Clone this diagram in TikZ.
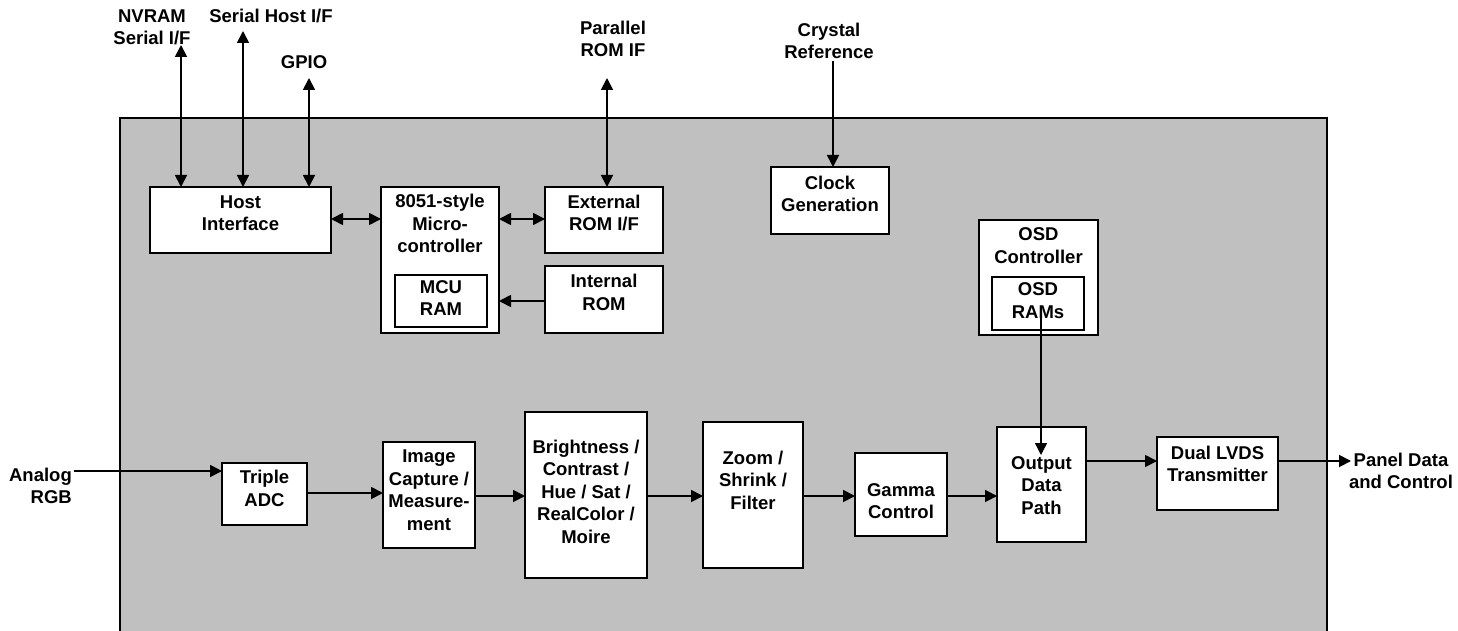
\documentclass[tikz,border=0pt]{standalone}
\usepackage{fontspec}
\setmainfont{Liberation Sans}
\usetikzlibrary{arrows.meta}
\definecolor{panelgray}{HTML}{C0C0C0}
\begin{document}
\begin{tikzpicture}[x=1pt,y=-1pt,
  box/.style={draw, line width=1.8pt, fill=white, inner sep=0pt, outer sep=0pt},
  txt/.style={font=\fontsize{18.5}{22.5}\selectfont\bfseries, align=center, inner sep=0pt},
  tip/.style={Triangle[length=12pt,width=12pt]},
  arr/.style={line width=1.8pt, -{Triangle[length=12pt,width=12pt]}},
  darr/.style={line width=1.8pt, {Triangle[length=12pt,width=12pt]}-{Triangle[length=12pt,width=12pt]}}]
\useasboundingbox (0,0) rectangle (1458,631);
\begin{scope}
  \clip (0,0) rectangle (1458,631);
  \path[draw, line width=1.8pt, fill=panelgray] (120,118) rectangle (1327,660);
\end{scope}

% boxes
\node[box, minimum width=181pt, minimum height=66pt] (host) at (240.5,220) {};
\node[box, minimum width=118pt, minimum height=146pt] (mcu) at (440,260) {};
\node[box, minimum width=92pt, minimum height=52pt] (mcuram) at (441,301) {};
\node[box, minimum width=118pt, minimum height=66pt] (ext) at (604,220) {};
\node[box, minimum width=118pt, minimum height=67pt] (introm) at (604,299.5) {};
\node[box, minimum width=118pt, minimum height=67pt] (clock) at (830,200.5) {};
\node[box, minimum width=119pt, minimum height=115pt] (osd) at (1038.5,277.5) {};
\node[box, minimum width=92pt, minimum height=53pt] (osdram) at (1038,303.5) {};
\node[box, minimum width=85pt, minimum height=62pt] (adc) at (264.5,494) {};
\node[box, minimum width=92pt, minimum height=106pt] (img) at (429,495) {};
\node[box, minimum width=122pt, minimum height=166pt] (bri) at (586,495) {};
\node[box, minimum width=100pt, minimum height=146pt] (zoom) at (753,495) {};
\node[box, minimum width=92pt, minimum height=83pt] (gam) at (901,494.5) {};
\node[box, minimum width=89pt, minimum height=115pt] (out) at (1041.5,484.5) {};
\node[box, minimum width=121pt, minimum height=73pt] (lvds) at (1217.5,473.5) {};

% box texts
\node[txt] (thost) at (240.5,213) {Host\\Interface};
\node[txt] (tmcu) at (440,223.5) {8051-style\\Micro-\\controller};
\node[txt] (tmcuram) at (441,298) {MCU\\RAM};
\node[txt] (text) at (604,213) {External\\ROM I/F};
\node[txt] (tintrom) at (604,292.5) {Internal\\ROM};
\node[txt] (tclock) at (830,194) {Clock\\Generation};
\node[txt] (tosd) at (1038.5,245.5) {OSD\\Controller};
\node[txt] (tosdram) at (1038,300.5) {OSD\\RAMs};
\node[txt] (tadc) at (264.5,488.5) {Triple\\ADC};
\node[txt] (timg) at (429,490) {Image\\Capture /\\Measure-\\ment};
\node[txt] (tbri) at (586,491.5) {Brightness /\\Contrast /\\Hue / Sat /\\RealColor /\\Moire};
\node[txt] (tzoom) at (753,480) {Zoom /\\Shrink /\\Filter};
\node[txt] (tgam) at (901,501) {Gamma\\Control};
\node[txt] (tout) at (1041.5,485.5) {Output\\Data\\Path};
\node[txt] (tlvds) at (1217.5,464) {Dual LVDS\\Transmitter};

% external labels
\node[txt] (lnv) at (152,27.5) {NVRAM\\Serial I/F};
\node[txt] (lsh) at (271,16) {Serial Host I/F};
\node[txt] (lgpio) at (304,62) {GPIO};
\node[txt] (lpar) at (613,39) {Parallel\\ROM IF};
\node[txt] (lxtal) at (829,41) {Crystal\\Reference};
\node[txt, align=right, anchor=east] (lain) at (72,486) {Analog\\RGB};
\node[txt] (lpanel) at (1401,471) {Panel Data\\and Control};

% connector free ends
\coordinate (nvtop) at (181,45);
\coordinate (shtop) at (243,31);
\coordinate (gptop) at (309,78);
\coordinate (partop) at (607,78);
\coordinate (xtaltop) at (833,61);
\coordinate (osdA) at (1041,315);
\coordinate (osdB) at (1041,455);
\coordinate (ain) at (74,471);
\coordinate (pout) at (1351,461);

% top connectors
\draw[darr] (nvtop) -- (nvtop |- host.north);
\draw[darr] (shtop) -- (shtop |- host.north);
\draw[darr] (gptop) -- (gptop |- host.north);
\draw[darr] (partop) -- (partop |- ext.north);
\draw[arr] (xtaltop) -- (xtaltop |- clock.north);
\draw[darr] (host.east |- 0,219) -- (mcu.west |- 0,219);
\draw[darr] (mcu.east |- 0,219) -- (ext.west |- 0,219);
\draw[arr] (introm.west |- 0,301) -- (mcu.east |- 0,301);
\draw[arr, line width=1.4pt] (osdA) -- (osdB);

% bottom chain
\draw[arr] (ain) -- (adc.west |- ain);
\draw[arr] (adc.east |- 0,493) -- (img.west |- 0,493);
\draw[arr] (img.east |- 0,496) -- (bri.west |- 0,496);
\draw[arr] (bri.east |- 0,496) -- (zoom.west |- 0,496);
\draw[arr] (zoom.east |- 0,496) -- (gam.west |- 0,496);
\draw[arr] (gam.east |- 0,496) -- (out.west |- 0,496);
\draw[arr] (out.east |- 0,461) -- (lvds.west |- 0,461);
\draw[arr] (lvds.east |- pout) -- (pout);
\end{tikzpicture}
\end{document}
